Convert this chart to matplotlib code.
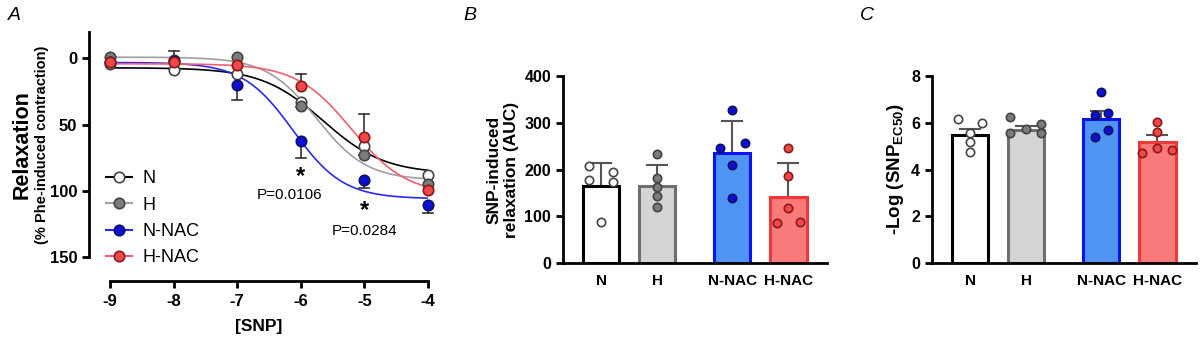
import numpy as np
import matplotlib
matplotlib.use('Agg')
import matplotlib.pyplot as plt

plt.rcParams['font.family'] = ['Liberation Sans', 'DejaVu Sans']
plt.rcParams['mathtext.fontset'] = 'custom'
plt.rcParams['mathtext.rm'] = 'Liberation Sans'
plt.rcParams['mathtext.bf'] = 'Liberation Sans:bold'
plt.rcParams['axes.unicode_minus'] = False

# ---------------- data ----------------
groups = ['N', 'H', 'N-NAC', 'H-NAC']
log_snp = [-9, -8, -7, -6, -5, -4]

# panel A: mean relaxation (%)
relax_N = [4, 9, 12, 33, 66, 88]
relax_H = [-1, 1, -1, 36, 73, 95]
relax_NNAC = [3, 2, 20, 62, 92, 111]
relax_HNAC = [3, 3, 5, 21, 59, 99]
# one-sided error bars (SEM), sign = direction on the value axis
err_N = [0, 0, 0, 4, 7, 0]
err_H = [0, -7, 0, 0, 0, 0]
err_NNAC = [0, 0, 11, 13, 6, 6]
err_HNAC = [0, 0, 0, -9, -17, 0]
# sigmoid fit parameters: top, bottom, logEC50, hill
fit_N = [7, 87, -5.65, 0.9]
fit_H = [-1, 92, -5.75, 1.1]
fit_NNAC = [3, 106, -6.12, 1.1]
fit_HNAC = [4, 103, -5.2, 1.0]

# panel B: AUC
auc_mean = [165, 165, 235, 142]
auc_sd = [48, 45, 68, 72]
auc_pts = [[207, 195, 177, 173, 88],
           [233, 181, 162, 144, 120],
           [327, 247, 256, 210, 140],
           [247, 186, 117, 85, 88]]

# panel C: -log EC50
ec50_mean = [5.47, 5.70, 6.17, 5.18]
ec50_sem = [0.28, 0.17, 0.35, 0.30]
ec50_pts = [[6.15, 5.98, 5.55, 5.19, 4.76],
            [6.23, 5.73, 5.93, 5.55, 5.55],
            [7.33, 6.33, 6.40, 5.69, 5.38],
            [6.05, 5.62, 4.91, 4.72, 4.83]]

# ---------------- style ----------------
bar_x = [0, 1, 2.34, 3.34]
jit_B = [[-0.22, 0.22, -0.22, 0.22, 0.0],
         [0.0, 0.0, 0.0, 0.0, 0.0],
         [0.0, -0.22, 0.22, 0.0, 0.0],
         [0.0, 0.0, 0.0, -0.2, 0.2]]
jit_C = [[-0.22, 0.22, 0.0, 0.0, 0.0],
         [-0.28, 0.0, 0.26, -0.28, 0.26],
         [0.0, -0.12, 0.12, 0.12, -0.12],
         [0.0, 0.0, 0.0, -0.27, 0.27]]
bar_face = ['white', '#d4d4d4', '#4f94f2', '#f87a7a']
bar_edge = ['black', '#6e6e6e', '#0a14f0', '#f03838']
pt_face = ['white', '#7c7c7c', '#0a10d8', '#f04848']
pt_edge = ['#444444', '#444444', '#101060', '#8a1a1a']
line_col = ['black', '#a0a0a0', '#2a2af0', '#f06070']

fig = plt.figure(figsize=(12, 3.39), dpi=100)


def style_axes(ax, size=11):
    for s in ['top', 'right']:
        ax.spines[s].set_visible(False)
    for s in ['left', 'bottom']:
        ax.spines[s].set_linewidth(2.0)
    ax.tick_params(width=2.0, length=5, labelsize=size)
    for lab in ax.get_xticklabels() + ax.get_yticklabels():
        lab.set_fontweight('bold')


# ---------------- panel A ----------------
axA = fig.add_axes([89/1200, 1-257/339, (428-89)/1200, (257-32)/339])
axA.set_xlim(-9.33, -4)
axA.set_ylim(150, -20)
xs = np.linspace(-9, -4, 300)
means = [relax_N, relax_H, relax_NNAC, relax_HNAC]
errs = [err_N, err_H, err_NNAC, err_HNAC]
fits = [fit_N, fit_H, fit_NNAC, fit_HNAC]
for i, g in enumerate(groups):
    top, bot, ec, hill = fits[i]
    curve = top + (bot - top) / (1 + 10 ** ((ec - xs) * hill))
    axA.plot(xs, curve, color=line_col[i], lw=1.2, zorder=2)
    for x, m, e in zip(log_snp, means[i], errs[i]):
        if e != 0:
            axA.plot([x, x], [m, m + e], color='#333333', lw=1.2, zorder=3, clip_on=False)
            axA.plot([x - 0.08, x + 0.08], [m + e, m + e], color='#333333', lw=1.2, zorder=3,
                     clip_on=False)
    axA.plot(log_snp, means[i], 'o', ms=7.5, mfc=pt_face[i], mec=pt_edge[i], mew=1.2,
             zorder=4, clip_on=False)
    axA.plot([], [], '-o', color=line_col[i], ms=7.5, mfc=pt_face[i], mec=pt_edge[i],
             mew=1.2, label=g)
axA.spines['bottom'].set_position(('outward', 17))
axA.spines['bottom'].set_bounds(-9, -4)
axA.set_xticks(log_snp)
axA.set_yticks([0, 50, 100, 150])
style_axes(axA, 12)
axA.tick_params(axis='x', pad=5)
axA.set_xlabel('[SNP]', fontsize=12.5, fontweight='bold', labelpad=7)
axA.text(-0.198, 0.50, 'Relaxation', transform=axA.transAxes, rotation=90, fontsize=15.5,
         fontweight='bold', ha='center', va='center')
axA.text(-0.139, 0.50, '(% Phe-induced contraction)', transform=axA.transAxes, rotation=90,
         fontsize=10.5, fontweight='bold', ha='center', va='center')
axA.legend(loc='upper left', bbox_to_anchor=(0.03, 0.418), frameon=False, fontsize=13,
           handlelength=1.4, handletextpad=0.6, labelspacing=0.52, borderaxespad=0.0)
axA.text(-6, 89, '*', fontsize=17, fontweight='bold', ha='center', va='center')
axA.text(-6.18, 103, 'P=0.0106', fontsize=11, ha='center', va='center')
axA.text(-5, 115, '*', fontsize=17, fontweight='bold', ha='center', va='center')
axA.text(-5.0, 130, 'P=0.0284', fontsize=11, ha='center', va='center')
fig.text(8/1200, 1-15/339, 'A', fontsize=14, style='italic', va='center')


# ---------------- bar panels ----------------
def bar_panel(rect, mean, err, pts, jit, ylim, yticks, ylabel, ylsize, label, label_x):
    ax = fig.add_axes(rect)
    ax.bar(bar_x, mean, width=0.65, color=bar_face, edgecolor=bar_edge, linewidth=2.2,
           zorder=2)
    for i in range(4):
        ax.plot([bar_x[i], bar_x[i]], [mean[i], mean[i] + err[i]], color='#555555', lw=1.5,
                zorder=1)
        ax.plot([bar_x[i] - 0.18, bar_x[i] + 0.18], [mean[i] + err[i]] * 2, color='#555555',
                lw=1.5, zorder=3)
        ax.plot(np.array(bar_x[i]) + np.array(jit[i]), pts[i], 'o', ms=6, mfc=pt_face[i],
                mec=pt_edge[i], mew=1.2, zorder=4, clip_on=False)
    ax.set_xlim(-0.68, 4.03)
    ax.set_ylim(*ylim)
    ax.set_yticks(yticks)
    ax.set_xticks(bar_x)
    ax.set_xticklabels(groups)
    style_axes(ax, 11.5)
    ax.tick_params(axis='x', length=0, pad=8, labelsize=11)
    ax.set_ylabel(ylabel, fontsize=ylsize, fontweight='bold', labelpad=4)
    fig.text(label_x, 1-15/339, label, fontsize=14, style='italic', va='center')
    return ax


bar_panel([563/1200, 1-263/339, 264/1200, 187/339], auc_mean, auc_sd, auc_pts, jit_B,
          (0, 400), [0, 100, 200, 300, 400], 'SNP-induced\nrelaxation (AUC)', 12.5,
          'B', 463/1200)
bar_panel([932/1200, 1-263/339, 264/1200, 187/339], ec50_mean, ec50_sem, ec50_pts, jit_C,
          (0, 8), [0, 2, 4, 6, 8], r'-Log (SNP$_{\mathbf{EC50}}$)', 13.5, 'C', 860/1200)

fig.savefig('out.png', dpi=100)
